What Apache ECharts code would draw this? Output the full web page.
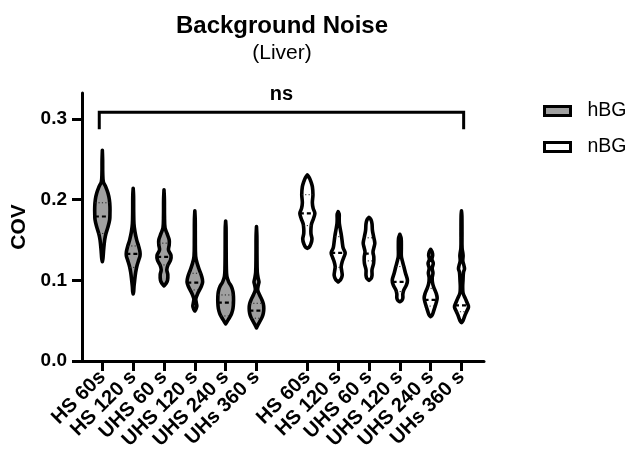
<!DOCTYPE html>
<html>
<head>
<meta charset="utf-8">
<script src="https://cdn.jsdelivr.net/npm/echarts@6/dist/echarts.min.js"></script>
<style>
html,body{margin:0;padding:0;background:#fff;}
#chart{width:633px;height:459px;}
</style>
</head>
<body>
<div id="chart"></div>
<script>
// ---------- DATA ----------
const categories = ['HS 60s', 'HS 120 s', 'UHS 60 s', 'UHS 120 s', 'UHS 240 s', 'UHs 360 s'];
const groups = ['hBG', 'nBG'];
const yTicks = [0, 0.1, 0.2, 0.3];

// violin density profiles: [COV value, relative density]
const hbgProfiles = [
  [[0.261,0],[0.249,0.3],[0.233,0.4],[0.222,1.0],[0.216,3.3],[0.208,5.6],[0.200,7.0],[0.191,7.6],[0.183,7.6],[0.175,7.3],[0.166,5.6],[0.158,3.6],[0.150,2.3],[0.138,1.3],[0.127,0.6],[0.123,0]],
  [[0.214,0],[0.205,0.4],[0.185,0.5],[0.170,0.8],[0.160,1.8],[0.150,3.5],[0.142,5.5],[0.135,6.8],[0.130,6.8],[0.125,5.5],[0.118,3.8],[0.110,2.5],[0.100,1.5],[0.092,0.8],[0.086,0.5],[0.083,0]],
  [[0.212,0],[0.200,0.4],[0.180,0.5],[0.165,1.0],[0.158,3.0],[0.150,5.2],[0.144,5.2],[0.1375,4.5],[0.131,7.0],[0.125,6.5],[0.119,4.0],[0.113,2.8],[0.107,3.8],[0.100,3.5],[0.096,2.0],[0.093,0]],
  [[0.186,0],[0.175,0.4],[0.150,0.5],[0.130,0.8],[0.121,2.3],[0.113,4.5],[0.105,6.8],[0.098,7.8],[0.092,6.3],[0.084,3.0],[0.077,1.0],[0.072,1.5],[0.068,2.0],[0.064,1.0],[0.062,0]],
  [[0.1735,0],[0.165,0.4],[0.140,0.5],[0.115,0.7],[0.105,1.2],[0.098,3.0],[0.092,5.8],[0.086,7.3],[0.080,7.8],[0.072,7.8],[0.065,7.3],[0.059,6.0],[0.054,4.0],[0.050,2.0],[0.046,0]],
  [[0.1665,0],[0.155,0.4],[0.130,0.5],[0.110,0.8],[0.102,1.8],[0.098,2.5],[0.094,1.8],[0.088,1.2],[0.082,3.0],[0.077,5.0],[0.071,6.8],[0.065,7.3],[0.059,6.8],[0.054,5.5],[0.050,3.8],[0.046,2.0],[0.041,0]]
];
const hbgMedians = [0.179, 0.1326, 0.129, 0.097, 0.0723, 0.0623];
const hbgQ1 = [0.158, 0.116, 0.119, 0.088, 0.0558, 0.053];
const hbgQ3 = [0.196, 0.1425, 0.146, 0.1087, 0.0818, 0.0715];

const nbgProfiles = [
  [[0.2305,0],[0.227,2.0],[0.222,3.6],[0.216,5.0],[0.206,5.6],[0.196,5.0],[0.189,5.8],[0.183,7.5],[0.176,6.0],[0.170,4.2],[0.164,3.6],[0.158,3.6],[0.151,4.6],[0.145,3.5],[0.141,1.8],[0.1396,0]],
  [[0.185,0],[0.182,1.0],[0.176,1.0],[0.170,1.2],[0.162,2.3],[0.154,3.4],[0.146,4.2],[0.140,5.0],[0.134,7.0],[0.128,5.5],[0.123,4.0],[0.117,3.0],[0.111,3.6],[0.106,4.0],[0.101,2.5],[0.098,0]],
  [[0.178,0],[0.175,2.0],[0.170,3.0],[0.162,3.4],[0.154,4.6],[0.146,5.8],[0.140,4.8],[0.135,4.0],[0.129,4.8],[0.121,4.6],[0.113,3.0],[0.106,3.0],[0.102,2.0],[0.100,0]],
  [[0.157,0],[0.152,1.3],[0.140,1.5],[0.130,1.5],[0.124,2.5],[0.117,4.0],[0.109,5.6],[0.100,7.6],[0.094,6.5],[0.088,4.0],[0.083,3.0],[0.078,3.0],[0.075,2.0],[0.0735,0]],
  [[0.1384,0],[0.135,1.5],[0.131,2.0],[0.126,1.3],[0.121,2.6],[0.115,1.5],[0.109,2.3],[0.103,1.5],[0.096,2.0],[0.090,3.5],[0.084,5.5],[0.078,6.5],[0.072,5.5],[0.066,4.0],[0.060,2.5],[0.057,1.5],[0.055,0]],
  [[0.186,0],[0.180,0.4],[0.160,0.5],[0.140,0.6],[0.131,1.6],[0.124,1.3],[0.118,2.5],[0.114,3.0],[0.110,2.0],[0.100,1.5],[0.092,1.2],[0.084,1.6],[0.077,4.0],[0.071,6.0],[0.067,7.0],[0.061,5.0],[0.055,3.0],[0.050,1.5],[0.0475,0]]
];
const nbgMedians = [0.183, 0.134, 0.133, 0.098, 0.0756, 0.069];
const nbgQ1 = [0.1677, 0.116, 0.124, 0.086, 0.068, 0.061];
const nbgQ3 = [0.206, 0.154, 0.1526, 0.117, 0.090, 0.090];

// significance annotation: comparison across all groups
const sigLabel = 'ns';
const sigLevel = 0.308;
const sigDrop = 0.287;

// ---------- LAYOUT ----------
const GROUP_GAP = 1.65;
const DENSITY_PER_UNIT = 30.8;
const pos1 = categories.map((c, i) => i + 1);
const pos2 = categories.map((c, i) => i + 1 + categories.length + GROUP_GAP - 1);
const allPos = pos1.concat(pos2);
const allLabels = categories.concat(categories);
const FONT = '"Liberation Sans", Arial, sans-serif';

function halfAt(profile, v) {
  for (let k = 0; k < profile.length - 1; k++) {
    const a = profile[k], b = profile[k + 1];
    if ((v <= a[0] && v >= b[0])) {
      const t = (a[0] - v) / (a[0] - b[0] || 1);
      return a[1] + t * (b[1] - a[1]);
    }
  }
  return 0;
}

function violinRender(profiles, medians, q1, q3, fill) {
  return function (params, api) {
    const idx = api.value(2);
    const x = api.value(0);
    const prof = profiles[idx];
    const pxPerUnit = api.size([1, 0])[0];
    const scale = pxPerUnit / DENSITY_PER_UNIT;
    const right = [], left = [];
    prof.forEach(function (p) {
      const c = api.coord([x, p[0]]);
      const h = p[1] * scale;
      right.push([c[0] + h, c[1]]);
      left.unshift([c[0] - h, c[1]]);
    });
    const pts = right.concat(left);
    const children = [{
      type: 'polygon',
      shape: { points: pts, smooth: 0.35 },
      style: { fill: fill, stroke: '#000', lineWidth: 3.6, lineJoin: 'round' }
    }];
    function hline(v, style) {
      const c = api.coord([x, v]);
      const h = halfAt(prof, v) * scale;
      if (h < 1.5) return;
      children.push({
        type: 'line',
        shape: { x1: c[0] - h, y1: c[1], x2: c[0] + h, y2: c[1] },
        style: style
      });
    }
    hline(q1[idx], { stroke: '#222', lineWidth: 1, lineDash: [1.2, 2.2] });
    hline(q3[idx], { stroke: '#222', lineWidth: 1, lineDash: [1.2, 2.2] });
    hline(medians[idx], { stroke: '#000', lineWidth: 2.2, lineDash: [4, 3] });
    return { type: 'group', children: children };
  };
}

const chart = echarts.init(document.getElementById('chart'), null, { renderer: 'canvas' });

const option = {
  backgroundColor: '#fff',
  animation: false,
  title: {
    text: 'Background Noise',
    subtext: '(Liver)',
    left: 282,
    top: 14,
    padding: 0,
    textAlign: 'center',
    itemGap: 5,
    textStyle: { fontFamily: FONT, fontWeight: 'bold', fontSize: 24, color: '#000' },
    subtextStyle: { fontFamily: FONT, fontSize: 21, color: '#000' }
  },
  legend: {
    orient: 'vertical',
    left: 543,
    top: 101,
    padding: 0,
    itemWidth: 26,
    itemHeight: 9,
    itemGap: 16,
    icon: 'rect',
    textStyle: { fontFamily: FONT, fontSize: 19.5, color: '#000', padding: [0, 0, 0, 12] },
    data: [
      { name: groups[0], itemStyle: { color: '#a0a0a0', borderColor: '#000', borderWidth: 3 } },
      { name: groups[1], itemStyle: { color: '#fff', borderColor: '#000', borderWidth: 3 } }
    ]
  },
  grid: { left: 82, right: 149, top: 93, bottom: 98, containLabel: false },
  xAxis: {
    type: 'value',
    min: 0.34,
    max: 13.38,
    splitLine: { show: false },
    axisLine: { show: true, onZero: false, lineStyle: { color: '#000', width: 3 } },
    axisTick: { show: true, customValues: allPos, length: 10, lineStyle: { color: '#000', width: 3 } },
    axisLabel: {
      customValues: allPos,
      rotate: 45,
      margin: 13,
      fontFamily: FONT,
      fontWeight: 'bold',
      fontSize: 20,
      color: '#000',
      formatter: function (v) {
        let best = 0, bd = 1e9;
        allPos.forEach(function (p, i) { const d = Math.abs(p - v); if (d < bd) { bd = d; best = i; } });
        return allLabels[best];
      }
    }
  },
  yAxis: {
    type: 'value',
    min: 0,
    max: 0.332,
    interval: 0.1,
    name: 'COV',
    nameLocation: 'middle',
    nameGap: 50,
    nameRotate: 90,
    nameTextStyle: { fontFamily: FONT, fontWeight: 'bold', fontSize: 21, color: '#000' },
    splitLine: { show: false },
    axisLine: { show: true, lineStyle: { color: '#000', width: 3 } },
    axisTick: { show: true, customValues: yTicks, length: 10, lineStyle: { color: '#000', width: 3 } },
    axisLabel: {
      customValues: yTicks,
      margin: 15,
      fontFamily: FONT,
      fontWeight: 'bold',
      fontSize: 19,
      color: '#000',
      formatter: function (v) { return v.toFixed(1); }
    }
  },
  series: [
    {
      name: groups[0],
      type: 'custom',
      itemStyle: { color: '#a0a0a0', borderColor: '#000' },
      renderItem: violinRender(hbgProfiles, hbgMedians, hbgQ1, hbgQ3, '#a0a0a0'),
      encode: { x: 0, y: 1 },
      data: categories.map(function (c, i) { return [pos1[i], hbgMedians[i], i]; }),
      clip: false
    },
    {
      name: groups[1],
      type: 'custom',
      itemStyle: { color: '#fff', borderColor: '#000' },
      renderItem: violinRender(nbgProfiles, nbgMedians, nbgQ1, nbgQ3, '#fff'),
      encode: { x: 0, y: 1 },
      data: categories.map(function (c, i) { return [pos2[i], nbgMedians[i], i]; }),
      clip: false
    },
    {
      name: 'sig',
      type: 'custom',
      silent: true,
      encode: { x: [0, 1], y: 2 },
      data: [[pos1[0] - 0.1, pos2[pos2.length - 1] + 0.07, sigLevel, sigDrop]],
      renderItem: function (params, api) {
        const a = api.coord([api.value(0), api.value(2)]);
        const b = api.coord([api.value(1), api.value(2)]);
        const a2 = api.coord([api.value(0), api.value(3)]);
        const b2 = api.coord([api.value(1), api.value(3)]);
        return {
          type: 'group',
          children: [
            { type: 'polyline', shape: { points: [a2, a, b, b2] }, style: { stroke: '#000', lineWidth: 3, fill: null } },
            { type: 'text', style: { text: sigLabel, x: (a[0] + b[0]) / 2, y: a[1] - 8, textAlign: 'center', textVerticalAlign: 'bottom', font: 'bold 20px "Liberation Sans", Arial, sans-serif', fill: '#000' } }
          ]
        };
      },
      clip: false
    }
  ]
};
chart.setOption(option);
</script>
</body>
</html>
